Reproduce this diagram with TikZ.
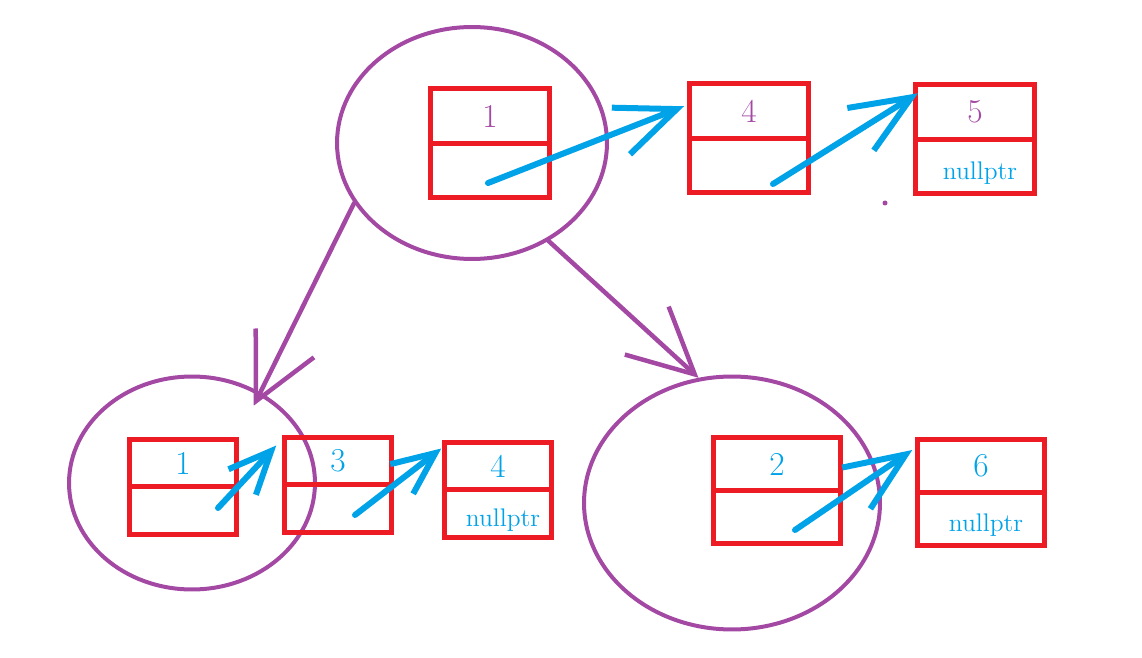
\documentclass[tikz,border=0pt]{standalone}
\usepackage{tikz}
\usetikzlibrary{arrows.meta, positioning, shapes.geometric}
\definecolor{boxred}{HTML}{ED1C24}
\definecolor{lilac}{HTML}{A349A4}
\definecolor{sky}{HTML}{00A2E8}

\begin{document}
\begin{tikzpicture}[
  x=0.02cm, y=-0.02cm,
  cell/.style={draw=boxred, line width=0.1cm, outer sep=0pt, inner sep=0pt, font=\fontsize{19}{21}\selectfont},
  bigcell/.style={cell, minimum width=2.38cm, minimum height=1.09cm},
  smallcell/.style={cell, minimum width=2.13cm, minimum height=0.96cm},
  widecell/.style={cell, minimum width=2.53cm, minimum height=1.06cm},
  blob/.style={ellipse, draw=lilac, line width=0.08cm},
  ptr/.style={sky, line width=0.12cm, line cap=round, -{Straight Barb[length=1.2cm, width=1cm]}},
  smallptr/.style={ptr, -{Straight Barb[length=0.85cm, width=0.75cm]}},
  link/.style={lilac, line width=0.09cm, line cap=round, -{Straight Barb[length=1.3cm, width=1.3cm]}},
  nil/.style={text=sky, font=\fontsize{14.5}{16}\selectfont, text height=0.6cm}
]
\useasboundingbox (0,0) rectangle (1142,658);

\node[blob, minimum width=5.4cm, minimum height=4.64cm] (root) at (472,143) {};
\node[blob, minimum width=4.92cm, minimum height=4.26cm] (left) at (192,483) {};
\node[blob, minimum width=5.92cm, minimum height=5.06cm] (right) at (732,503) {};

\node[bigcell, text=lilac] (rt1) at (490,116) {1};
\node[bigcell, below=0pt of rt1] (rt1n) {};
\node[bigcell, text=lilac] (rt4) at (749,111) {4};
\node[bigcell, below=0pt of rt4] (rt4n) {};
\node[bigcell, text=lilac] (rt5) at (975,112) {5};
\node[bigcell, nil, below=0pt of rt5] (rt5n) {\hspace{0.2cm}nullptr};

\node[smallcell, text=sky] (lt1) at (183,463) {1};
\node[smallcell, below=0pt of lt1] (lt1n) {};
\node[smallcell, text=sky] (lt3) at (338,461) {3};
\node[smallcell, below=0pt of lt3] (lt3n) {};
\node[smallcell, text=sky] (lt4) at (498,466) {4};
\node[smallcell, nil, below=0pt of lt4] (lt4n) {\hspace{0.2cm}nullptr};

\node[widecell, text=sky] (rg2) at (777,464) {2};
\node[widecell, below=0pt of rg2] (rg2n) {};
\node[widecell, text=sky] (rg6) at (981,466) {6};
\node[widecell, nil, below=0pt of rg6] (rg6n) {\hspace{0.2cm}nullptr};

\coordinate (s1) at (488,183);
\coordinate (s2) at (773,184);
\coordinate (s3) at (218,508);
\coordinate (s4) at (355,515);
\coordinate (s5) at (795,530);

\draw[ptr] (s1) -- ([xshift=-0.11cm, yshift=-0.45cm]rt4.north west);
\draw[ptr] (s2) -- ([xshift=0.05cm, yshift=-0.17cm]rt5.north west);
\draw[smallptr] (s3) -- ([xshift=-0.17cm, yshift=-0.17cm]lt3.north west);
\draw[smallptr] (s4) -- ([xshift=-0.07cm, yshift=-0.13cm]lt4.north west);
\draw[ptr] (s5) -- ([xshift=-0.11cm, yshift=-0.21cm]rg6.north west);

\draw[link, shorten >=-0.3cm] (root.207) -- (left.53);
\draw[link] (root.308) -- (right.105);

\fill[lilac] (885,203) circle (0.05cm);
\end{tikzpicture}
\end{document}
